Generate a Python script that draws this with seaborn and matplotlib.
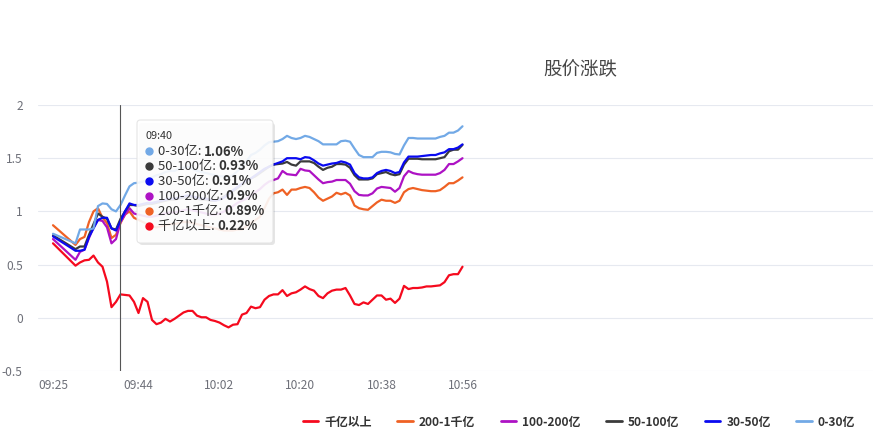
import matplotlib
matplotlib.use("Agg")
import matplotlib.pyplot as plt
import numpy as np
import pandas as pd
import seaborn as sns
from matplotlib.patches import FancyBboxPatch
from matplotlib.lines import Line2D
from matplotlib.text import Annotation

# ---------------- data ----------------
# time points: 09:25, then every minute 09:30 ... 10:56
times = ["09:25"] + [f"{(570 + i) // 60:02d}:{(570 + i) % 60:02d}" for i in range(87)]

series_names = ["千亿以上", "200-1千亿", "100-200亿", "50-100亿", "30-50亿", "0-30亿"]

v_1000 = [0.70,
          0.49, 0.52, 0.54, 0.545, 0.585, 0.52, 0.48, 0.34, 0.10, 0.15,
          0.22, 0.215, 0.21, 0.15, 0.045, 0.185, 0.15, -0.02, -0.06, -0.045,
          -0.01, -0.035, -0.01, 0.02, 0.05, 0.065, 0.065, 0.02, 0.005, 0.005,
          -0.02, -0.03, -0.045, -0.07, -0.09, -0.065, -0.06, 0.03, 0.045, 0.105,
          0.09, 0.10, 0.17, 0.205, 0.22, 0.22, 0.26, 0.205, 0.23, 0.24,
          0.265, 0.295, 0.27, 0.255, 0.205, 0.185, 0.23, 0.255, 0.265, 0.265,
          0.28, 0.21, 0.13, 0.12, 0.145, 0.13, 0.17, 0.21, 0.21, 0.17,
          0.18, 0.14, 0.18, 0.30, 0.27, 0.28, 0.28, 0.285, 0.295, 0.295,
          0.30, 0.305, 0.335, 0.40, 0.41, 0.41, 0.48]

v_200_1000 = [0.87,
              0.685, 0.74, 0.76, 0.90, 1.00, 1.03, 0.94, 0.89, 0.75, 0.78,
              0.89, 0.97, 1.00, 0.94, 0.92, 0.90, 0.88, 0.86, 0.85, 0.86,
              0.87, 0.88, 0.88, 0.89, 0.90, 0.90, 0.89, 0.88, 0.87, 0.86,
              0.85, 0.84, 0.83, 0.82, 0.82, 0.82, 0.83, 0.83, 0.86, 0.89,
              0.92, 0.95, 1.03, 1.12, 1.17, 1.18, 1.205, 1.155, 1.205, 1.205,
              1.22, 1.23, 1.22, 1.18, 1.13, 1.10, 1.12, 1.14, 1.175, 1.16,
              1.175, 1.15, 1.055, 1.03, 1.02, 1.015, 1.05, 1.085, 1.11, 1.10,
              1.10, 1.08, 1.10, 1.18, 1.21, 1.22, 1.21, 1.20, 1.195, 1.19,
              1.19, 1.20, 1.23, 1.265, 1.265, 1.29, 1.32]

v_100_200 = [0.74,
             0.545, 0.62, 0.64, 0.75, 0.85, 0.92, 0.91, 0.85, 0.70, 0.74,
             0.90, 0.97, 1.03, 0.98, 0.97, 0.96, 0.95, 0.95, 0.96, 0.97,
             0.98, 0.99, 0.99, 1.00, 1.01, 1.02, 1.01, 1.00, 0.99, 0.98,
             0.97, 0.97, 0.98, 1.00, 1.02, 1.05, 1.08, 1.10, 1.12, 1.15,
             1.18, 1.21, 1.25, 1.28, 1.295, 1.31, 1.38, 1.35, 1.345, 1.34,
             1.40, 1.385, 1.38, 1.34, 1.30, 1.265, 1.275, 1.28, 1.295, 1.295,
             1.295, 1.26, 1.19, 1.155, 1.15, 1.15, 1.17, 1.215, 1.23, 1.225,
             1.22, 1.185, 1.22, 1.33, 1.38, 1.36, 1.35, 1.345, 1.345, 1.345,
             1.345, 1.36, 1.39, 1.445, 1.445, 1.47, 1.50]

v_50_100 = [0.775,
            0.645, 0.67, 0.67, 0.78, 0.88, 0.98, 0.95, 0.93, 0.84, 0.83,
            0.93, 1.00, 1.06, 1.06, 1.05, 1.06, 1.07, 1.07, 1.08, 1.09,
            1.10, 1.11, 1.11, 1.12, 1.13, 1.14, 1.13, 1.12, 1.11, 1.11,
            1.10, 1.10, 1.12, 1.14, 1.17, 1.19, 1.22, 1.25, 1.28, 1.31,
            1.33, 1.36, 1.39, 1.42, 1.44, 1.445, 1.45, 1.465, 1.44, 1.43,
            1.47, 1.47, 1.47, 1.455, 1.42, 1.39, 1.41, 1.42, 1.445, 1.445,
            1.44, 1.41, 1.34, 1.30, 1.30, 1.30, 1.31, 1.35, 1.36, 1.37,
            1.35, 1.34, 1.35, 1.44, 1.495, 1.495, 1.495, 1.49, 1.49, 1.49,
            1.49, 1.50, 1.51, 1.565, 1.58, 1.58, 1.625]

v_30_50 = [0.765,
           0.63, 0.63, 0.64, 0.76, 0.84, 0.92, 0.94, 0.94, 0.84, 0.82,
           0.91, 1.00, 1.075, 1.06, 1.06, 1.07, 1.08, 1.08, 1.09, 1.10,
           1.11, 1.12, 1.12, 1.13, 1.14, 1.15, 1.14, 1.13, 1.12, 1.12,
           1.11, 1.10, 1.11, 1.13, 1.16, 1.20, 1.23, 1.26, 1.29, 1.31,
           1.34, 1.37, 1.40, 1.42, 1.44, 1.455, 1.47, 1.50, 1.50, 1.50,
           1.49, 1.51, 1.505, 1.48, 1.45, 1.43, 1.44, 1.45, 1.455, 1.47,
           1.46, 1.44, 1.36, 1.32, 1.31, 1.31, 1.32, 1.36, 1.38, 1.39,
           1.38, 1.36, 1.37, 1.46, 1.515, 1.515, 1.515, 1.52, 1.525, 1.53,
           1.53, 1.545, 1.555, 1.585, 1.585, 1.60, 1.63]

v_0_30 = [0.79,
          0.70, 0.83, 0.83, 0.83, 0.84, 1.05, 1.075, 1.07, 1.02, 1.00,
          1.06, 1.15, 1.235, 1.265, 1.27, 1.28, 1.30, 1.32, 1.34, 1.35,
          1.37, 1.38, 1.38, 1.40, 1.41, 1.42, 1.40, 1.38, 1.37, 1.36,
          1.35, 1.34, 1.33, 1.33, 1.32, 1.34, 1.38, 1.42, 1.47, 1.53,
          1.55, 1.58, 1.62, 1.65, 1.655, 1.66, 1.68, 1.71, 1.69, 1.68,
          1.69, 1.71, 1.70, 1.68, 1.66, 1.63, 1.63, 1.63, 1.63, 1.66,
          1.665, 1.655, 1.59, 1.53, 1.51, 1.51, 1.51, 1.55, 1.56, 1.56,
          1.555, 1.54, 1.535, 1.62, 1.69, 1.69, 1.685, 1.685, 1.685, 1.685,
          1.685, 1.70, 1.71, 1.74, 1.74, 1.76, 1.80]

series_values = [v_1000, v_200_1000, v_100_200, v_50_100, v_30_50, v_0_30]
colors = ["#f50a1e", "#ef6124", "#ad12c4", "#3b3b3b", "#0a0af0", "#72a9e6"]

x_tick_labels = ["09:25", "09:44", "10:02", "10:20", "10:38", "10:56"]
y_ticks = [-0.5, 0, 0.5, 1, 1.5, 2]
y_tick_labels = ["-0.5", "0", "0.5", "1", "1.5", "2"]
title = "股价涨跌"
hover_time = "09:40"

# ---------------- build frame ----------------
def to_min(t):
    h, m = t.split(":")
    return int(h) * 60 + int(m) - (9 * 60 + 25)

rows = []
for name, vals in zip(series_names, series_values):
    for t, v in zip(times, vals):
        rows.append({"time": t, "minute": to_min(t), "series": name, "value": v})
df = pd.DataFrame(rows)

# ---------------- figure ----------------
sns.set_style("white")
plt.rcParams["font.family"] = ["Noto Sans CJK SC", "DejaVu Sans"]
plt.rcParams["axes.unicode_minus"] = False

W, H = 873, 448
fig = plt.figure(figsize=(W / 100, H / 100), dpi=100)

def fx(x):
    return x / W

def fy(y):
    return 1 - y / H

ax = fig.add_axes([fx(38), fy(371), fx(873) - fx(38), fy(105) - fy(371)])

palette = dict(zip(series_names, colors))
sns.lineplot(data=df, x="minute", y="value", hue="series", hue_order=series_names,
             palette=palette, linewidth=1.6, ax=ax, legend=False, sort=True)

ax.set_xlim((38 - 53) / 4.5, (873 - 53) / 4.5)
ax.set_ylim(-0.5, 2)
ax.set_yticks(y_ticks)
ax.set_yticklabels(y_tick_labels)
ax.set_xticks([to_min(t) for t in x_tick_labels])
ax.set_xticklabels(x_tick_labels)
ax.set_xlabel("")
ax.set_ylabel("")
ax.tick_params(axis="y", length=0, pad=11, labelsize=8.6, labelcolor="#6e7079")
ax.tick_params(axis="x", length=0, pad=6, labelsize=8.6, labelcolor="#6e7079")
for s in ax.spines.values():
    s.set_visible(False)
ax.grid(axis="y", color="#e6e9f0", linewidth=0.8)
ax.grid(axis="x", visible=False)
ax.set_axisbelow(True)

# hover crosshair
ax.axvline(to_min(hover_time), color="#555555", linewidth=0.8, zorder=5)

# title
fig.text(fx(580), fy(70), title, fontsize=13.3, color="#464646", ha="center", va="center")

# legend
handles = [Line2D([0], [0], color=c, linewidth=2) for c in colors]
fig.legend(handles, series_names, loc="center", bbox_to_anchor=(fx(579), fy(422)),
           ncol=6, frameon=False, handlelength=1.3, handletextpad=0.5,
           columnspacing=2.15, prop=dict(size=8.6, weight="bold"), labelcolor="#333333")

# tooltip
shadow = FancyBboxPatch((fx(139), fy(245)), fx(275) - fx(139), fy(123) - fy(245),
                        boxstyle="round,pad=0,rounding_size=0.004", mutation_aspect=W / H,
                        transform=fig.transFigure, facecolor="#000000", alpha=0.10,
                        edgecolor="none", zorder=10)
box = FancyBboxPatch((fx(137), fy(243)), fx(273) - fx(137), fy(120) - fy(243),
                     boxstyle="round,pad=0,rounding_size=0.004", mutation_aspect=W / H,
                     transform=fig.transFigure, facecolor="white", alpha=0.9,
                     edgecolor="#e3e3e3", linewidth=0.8, zorder=11)
fig.add_artist(shadow)
fig.add_artist(box)
fig.text(fx(145), fy(136), hover_time, fontsize=7.8, color="#333333", va="center", zorder=12)

idx = times.index(hover_time)
tip = sorted([(vals[idx], name, c) for name, vals, c in zip(series_names, series_values, colors)],
             key=lambda r: -r[0])
for i, (v, name, c) in enumerate(tip):
    yy = 151.5 + i * 14.9
    fig.add_artist(Line2D([fx(148.5)], [fy(yy)], marker="o", markersize=5, color=c,
                          linestyle="none", transform=fig.transFigure, zorder=12))
    t = fig.text(fx(157.5), fy(yy), f"{name}: ", fontsize=9.5, color="#333333", va="center", zorder=12)
    ann = Annotation(f"{v:g}%", xy=(1, 0.5), xycoords=t, va="center", ha="left",
                     fontsize=9.5, fontweight="bold", color="#333333", annotation_clip=False)
    ann.set_zorder(13)
    fig.add_artist(ann)

fig.savefig("out.png", dpi=100)
